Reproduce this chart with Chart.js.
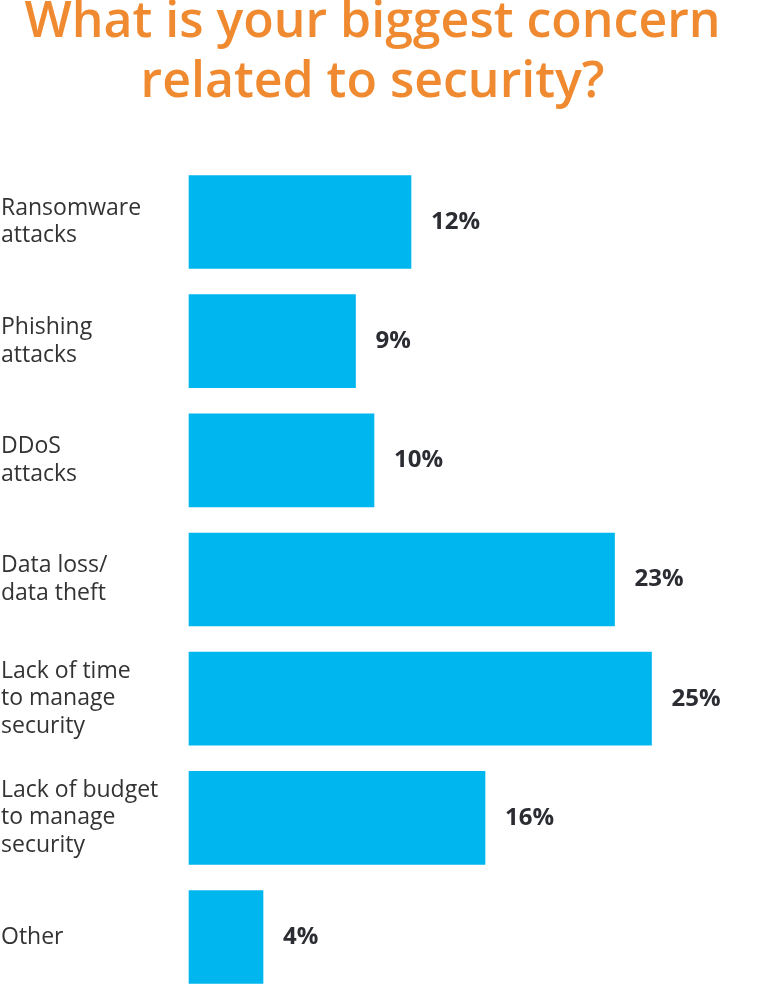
<!DOCTYPE html>
<html>
<head>
<meta charset="utf-8">
<script src="https://cdn.jsdelivr.net/npm/chart.js@4.4.0/dist/chart.umd.js"></script>
<style>
  html, body { margin: 0; padding: 0; background: #fff; }
  #wrap { width: 759px; height: 985px; position: relative; }
</style>
</head>
<body>
<div id="wrap"><canvas id="chart"></canvas></div>
<script>
// Survey answers, top to bottom
const categories = [
  ['Ransomware', 'attacks'],
  ['Phishing', 'attacks'],
  ['DDoS', 'attacks'],
  ['Data loss/', 'data theft'],
  ['Lack of time', 'to manage', 'security'],
  ['Lack of budget', 'to manage', 'security'],
  ['Other']
];
const shares = [12, 9, 10, 23, 25, 16, 4];
const titleLines = ['What is your biggest concern', 'related to security?'];

const colors = {
  bar: '#00B6EF',
  title: '#F08A30',
  label: '#333333',
  value: '#2B2D33'
};

// Percent label just right of each bar
const valueLabels = {
  id: 'valueLabels',
  afterDatasetsDraw(chart) {
    const ctx = chart.ctx;
    const meta = chart.getDatasetMeta(0);
    ctx.save();
    ctx.font = 'bold 24px "Open Sans"';
    ctx.fillStyle = colors.value;
    ctx.textAlign = 'left';
    ctx.textBaseline = 'middle';
    meta.data.forEach((bar, i) => {
      ctx.fillText(shares[i] + '%', bar.x + 20, bar.y);
    });
    ctx.restore();
  }
};

new Chart(document.getElementById('chart'), {
  type: 'bar',
  data: {
    labels: categories,
    datasets: [{
      data: shares,
      backgroundColor: colors.bar,
      barThickness: 93,
      clip: false
    }]
  },
  options: {
    indexAxis: 'y',
    responsive: true,
    maintainAspectRatio: false,
    animation: false,
    layout: { padding: { left: 1, right: 15, top: 0, bottom: 48 } },
    plugins: {
      legend: { display: false },
      tooltip: { enabled: false },
      title: {
        display: true,
        text: titleLines,
        color: colors.title,
        font: { family: '"Open Sans"', size: 50, weight: '600', lineHeight: 1.2 },
        padding: { top: -7, bottom: 109 }
      }
    },
    scales: {
      x: {
        display: false,
        min: 0,
        max: 30
      },
      y: {
        offset: false,
        grid: { display: false },
        border: { display: false },
        ticks: {
          crossAlign: 'far',
          color: colors.label,
          padding: 0,
          font: { family: '"Open Sans"', size: 23, lineHeight: 1.2 }
        },
        afterFit(scale) { scale.width = 188; }
      }
    }
  },
  plugins: [valueLabels]
});
</script>
</body>
</html>
